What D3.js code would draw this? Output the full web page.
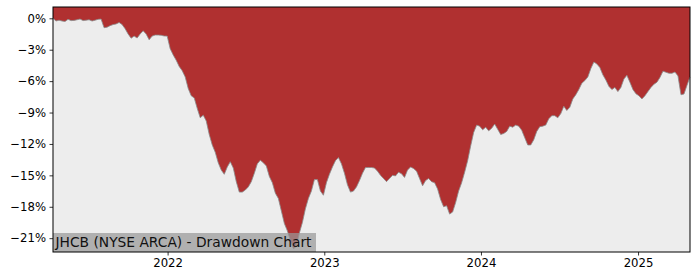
<!DOCTYPE html>
<html><head><meta charset="utf-8">
<script src="https://cdn.jsdelivr.net/npm/d3@7"></script>
<style>body{margin:0;background:#fff}svg{display:block}</style>
</head><body><svg id="c" width="700" height="280"></svg>
<script>
// Weekly drawdown readings (percent), starting 2021-04-09
const startDate = "2021-04-09";
const drawdown = [
 0.0,-0.26,-0.18,-0.26,-0.3,-0.1,-0.22,-0.2,-0.14,-0.07,
 -0.22,-0.18,-0.14,-0.26,-0.18,-0.1,-0.07,-0.9,-0.85,-0.7,
 -0.6,-0.54,-0.4,-0.6,-1.0,-1.5,-1.9,-1.7,-1.88,-1.5,
 -1.2,-1.5,-2.05,-1.7,-1.6,-1.6,-1.62,-1.69,-1.7,-2.9,
 -3.5,-4.0,-4.6,-5.0,-5.6,-6.7,-7.4,-7.6,-8.6,-9.5,
 -9.25,-9.8,-11.1,-12.1,-12.8,-13.8,-14.5,-14.9,-14.2,-13.7,
 -14.3,-15.6,-16.6,-16.6,-16.4,-16.1,-15.6,-14.8,-13.9,-13.55,
 -13.8,-14.1,-15.1,-15.7,-16.7,-17.2,-18.4,-19.6,-20.3,-21.2,
 -22.0,-21.8,-20.5,-19.5,-18.2,-17.2,-16.5,-15.4,-15.4,-16.5,
 -16.9,-15.7,-14.9,-14.2,-13.6,-13.3,-13.9,-14.8,-15.9,-16.6,
 -16.5,-16.1,-15.5,-14.8,-14.25,-14.25,-14.25,-14.3,-14.6,-15.0,
 -15.3,-15.6,-15.3,-15.0,-15.05,-14.7,-14.85,-15.2,-14.5,-14.2,
 -14.35,-14.6,-15.3,-16.0,-15.5,-15.3,-15.6,-15.7,-16.3,-17.3,
 -18.0,-17.9,-18.7,-18.5,-17.6,-16.5,-15.7,-14.7,-13.6,-12.2,
 -10.9,-10.2,-10.3,-10.65,-10.4,-10.75,-10.5,-10.1,-10.6,-11.1,
 -11.0,-10.8,-10.3,-10.4,-10.2,-10.3,-10.7,-11.4,-12.1,-12.1,
 -11.6,-10.8,-10.35,-10.3,-10.2,-9.6,-9.3,-9.3,-9.5,-9.1,
 -8.4,-8.8,-8.5,-7.7,-7.3,-6.8,-6.2,-5.95,-5.6,-4.8,
 -4.17,-4.36,-4.7,-5.4,-5.9,-6.5,-6.8,-6.6,-7.0,-6.6,
 -5.8,-5.45,-6.1,-6.8,-7.2,-7.4,-7.7,-7.4,-7.0,-6.6,
 -6.3,-6.1,-5.65,-5.05,-5.15,-5.25,-5.25,-5.13,-5.5,-7.3,
 -7.23,-6.4,-5.6
];
const yTicks = [0,-3,-6,-9,-12,-15,-18,-21];
const xTickYears = [2022,2023,2024,2025];
const title = "JHCB (NYSE ARCA) - Drawdown Chart";

const parse = d3.utcParse("%Y-%m-%d");
const t0 = parse(startDate);
const data = drawdown.map((v,i)=>({date:d3.utcDay.offset(t0,7*i), v}));

const L=53, R=690, T=7, B=252;
const svg = d3.select("#c");
const x = d3.scaleUtc().domain(d3.extent(data,d=>d.date)).range([L,R]);
const y = d3.scaleLinear().domain([1.08,-22.32]).range([T,B]);

svg.append("rect").attr("x",L).attr("y",T).attr("width",R-L).attr("height",B-T).attr("fill","#ededed");

const area = d3.area().x(d=>x(d.date)).y0(T).y1(d=>y(d.v));
svg.append("path").datum(data).attr("d",area).attr("fill","#b03030");
svg.append("path").datum(data).attr("d",d3.line().x(d=>x(d.date)).y(d=>y(d.v)))
  .attr("fill","none").attr("stroke","#8a8a8a").attr("stroke-width",0.8);

const font = "DejaVu Sans, sans-serif";
const fmt = v => (v<0?"\u2212":"") + Math.abs(v) + "%";
const yAxis = svg.append("g").attr("transform",`translate(${L},0)`)
  .call(d3.axisLeft(y).tickValues(yTicks).tickFormat(fmt).tickSize(3.5).tickPadding(3.5));
const xAxis = svg.append("g").attr("transform",`translate(0,${B})`)
  .call(d3.axisBottom(x).tickValues(xTickYears.map(yr=>Date.UTC(yr,0,1))).tickFormat(d=>new Date(d).getUTCFullYear()).tickSize(3.5).tickPadding(3.5));
[yAxis,xAxis].forEach(g=>{
  g.select(".domain").remove();
  g.selectAll("line").attr("stroke","#000").attr("stroke-width",0.8);
  g.selectAll("text").attr("font-family",font).attr("font-size","11.7px").attr("fill","#000");
});

// label box (semi-transparent, as in reference)
const lbl = svg.append("g");
lbl.append("rect").attr("x",L).attr("y",233).attr("width",263).attr("height",B-233)
  .attr("fill","#999999").attr("fill-opacity",0.72);
lbl.append("text").attr("x",55.5).attr("y",247.3).attr("font-family",font).attr("font-size","13.8px")
  .attr("fill","#111").text(title);

svg.append("rect").attr("x",L).attr("y",T).attr("width",R-L).attr("height",B-T)
  .attr("fill","none").attr("stroke","#000").attr("stroke-width",1);
</script></body></html>
